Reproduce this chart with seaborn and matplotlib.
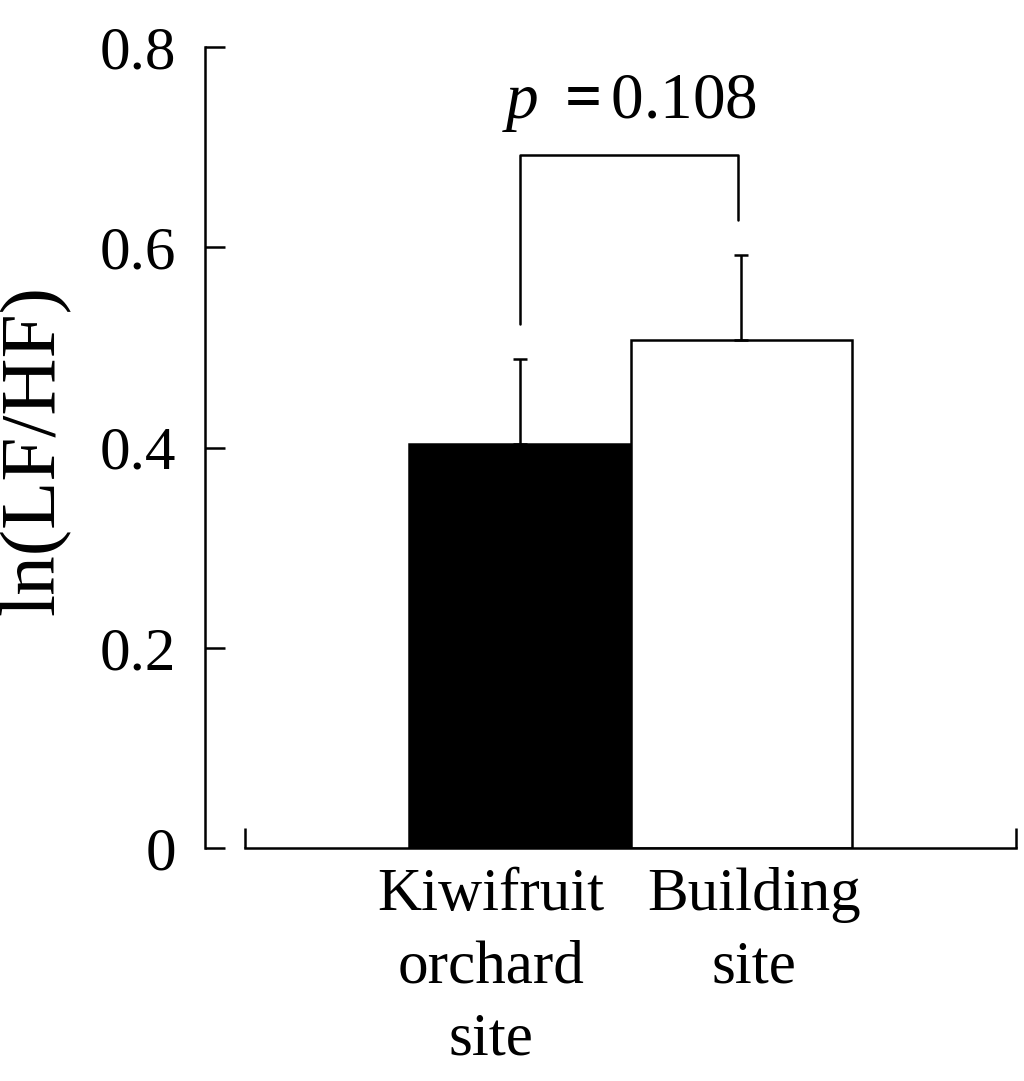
# -*- coding: utf-8 -*-
# ln(LF/HF) bar chart: kiwifruit orchard vs building site

import numpy as np
import pandas as pd
import matplotlib
matplotlib.use("Agg")
import matplotlib.pyplot as plt
import matplotlib.transforms as mtransforms
import seaborn as sns

# %% Data

sites = ["Kiwifruit\norchard\nsite", "Building\nsite"]
means = [0.403, 0.507]
sem = [0.085, 0.085]
bar_colors = ["black", "white"]
p_text = "0.108"
y_ticks = [0, 0.2, 0.4, 0.6, 0.8]
y_tick_labels = ["0", "0.2", "0.4", "0.6", "0.8"]

df = pd.DataFrame({"site": sites, "value": means})

# %% Style

sns.set_theme(style="white")
plt.rcParams["font.family"] = ["Liberation Serif", "DejaVu Serif"]
plt.rcParams["mathtext.fontset"] = "custom"
plt.rcParams["mathtext.it"] = "Liberation Serif:italic"
plt.rcParams["mathtext.rm"] = "Liberation Serif"
plt.rcParams["mathtext.bf"] = "Liberation Serif:bold"
plt.rcParams["text.color"] = "black"
plt.rcParams["axes.labelcolor"] = "black"
plt.rcParams["xtick.color"] = "black"
plt.rcParams["ytick.color"] = "black"

lw = 1.8

fig = plt.figure(figsize=(10.24, 10.81), dpi=100)
ax = fig.add_axes([205 / 1024, 1 - 848 / 1081, 811 / 1024, 801 / 1081])

sns.barplot(data=df, x="site", y="value", hue="site", palette=bar_colors,
            width=1.0, edgecolor="black", linewidth=lw, legend=False, ax=ax,
            errorbar=None)

x = np.arange(len(sites))
ax.errorbar(x, means, yerr=[np.zeros(len(sem)), sem], fmt="none",
            ecolor="black", elinewidth=lw, capsize=5, capthick=lw)

# %% Axes

ax.set_ylim(0, 0.8)
ax.set_xlim(-1.425, 2.244)
ax.set_yticks(y_ticks)
ax.set_yticklabels(y_tick_labels, fontsize=44)
ax.tick_params(axis="y", direction="in", length=14.5, width=lw, pad=21,
               left=True, colors="black")
ax.set_ylabel("ln(LF/HF)", fontsize=57, color="black")
ax.yaxis.set_label_coords(-0.166, 0.497)
ax.set_xlabel("")

for side in ["top", "right"]:
    ax.spines[side].set_visible(False)
for side in ["left", "bottom"]:
    ax.spines[side].set_linewidth(lw)
    ax.spines[side].set_color("black")
ax.spines["left"].set_bounds(0, 0.8)

# detached x axis with up-ticks at both ends
x_start = -1.244
x_end = ax.get_xlim()[1]
ax.spines["bottom"].set_bounds(x_start, x_end)
ax.set_xticks([x_start, x_end], minor=True)
ax.tick_params(axis="x", which="minor", direction="in", length=14.5,
               width=lw, bottom=True, colors="black")
ax.set_xticks(x)
ax.set_xticklabels(sites, fontsize=44, linespacing=1.4)
ax.tick_params(axis="x", which="major", length=0, pad=14, colors="black")
shifts = [-29, 13]
for lab, dx in zip(ax.get_xticklabels(), shifts):
    lab.set_transform(lab.get_transform() +
                      mtransforms.ScaledTranslation(dx / 100, 0, fig.dpi_scale_trans))

# %% Significance bracket

err_top = np.array(means) + np.array(sem)
gap = 0.035
bracket_y = 0.692
ax.plot([x[0], x[0], x[1] - 0.015, x[1] - 0.015],
        [err_top[0] + gap, bracket_y, bracket_y, err_top[1] + gap],
        color="black", lw=lw)
ax.text(0.495, 0.729, r"$p$ $\mathbf{=}$" + p_text, ha="center",
        va="baseline", fontsize=47)

fig.savefig("out.png", dpi=100)
